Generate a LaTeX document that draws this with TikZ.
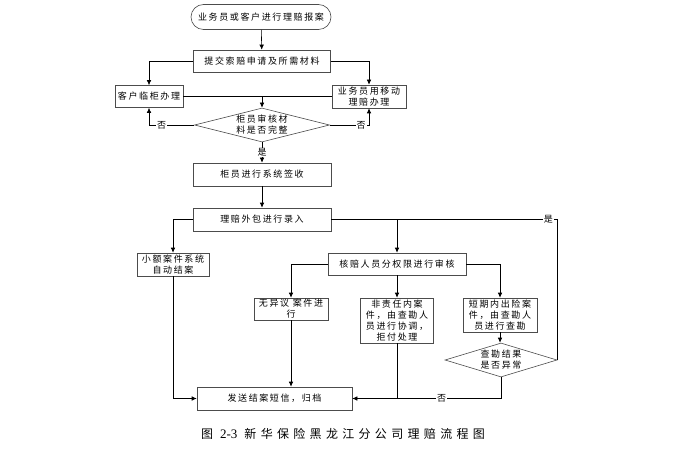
\documentclass[tikz,border=0pt]{standalone}
\usepackage{fontspec}
\usetikzlibrary{arrows.meta,shapes.geometric}
\newfontfamily\cjk[LetterSpace=18]{Noto Sans CJK SC}
\newfontfamily\capfont[LetterSpace=36]{Noto Sans CJK SC}
\newfontfamily\capnum{Liberation Serif}
\tikzset{every picture/.style={x=1pt,y=-1pt}}
\tikzset{box/.style={draw=black!70,line width=.6pt,inner sep=0pt,align=center,font=\cjk\fontsize{9}{11}\selectfont}}
\tikzset{dia/.style={box,diamond,aspect=3.6}}
\tikzset{edge/.style={line width=.6pt,-{Latex[length=5pt,width=4.5pt]}}}
\tikzset{line/.style={line width=.6pt}}
\tikzset{tag/.style={fill=white,inner sep=1pt,font=\cjk\fontsize{9}{11}\selectfont}}

\begin{document}
\begin{tikzpicture}
\useasboundingbox (0,0) rectangle (687,449);

\node [box,rounded corners=12.5pt,minimum width=140,minimum height=25] (start) at (261,17) {业务员或客户进行理赔报案};
\node [box,minimum width=137,minimum height=22] (ask) at (262,61) {提交索赔申请及所需材料};
\node [box,minimum width=68,minimum height=22] (kh) at (149,96.5) {客户临柜办理};
\node [box,minimum width=74,minimum height=23] (yw) at (369,96.5) {业务员用移动\\理赔办理};
\node [dia,minimum width=135,minimum height=34,label={[box,draw=none]center:柜员审核材\\料是否完整}] (chk) at (262,125) {};
\node [box,minimum width=138,minimum height=23] (sign) at (262,174.5) {柜员进行系统签收};
\node [box,minimum width=138,minimum height=23] (enter) at (262,219.5) {理赔外包进行录入};
\node [box,minimum width=72,minimum height=23] (small) at (173,264.5) {小额案件系统\\自动结案};
\node [box,minimum width=138,minimum height=22] (audit) at (397,264) {核赔人员分权限进行审核};
\node [box,minimum width=74,minimum height=22] (agree) at (291,309) {无异议 案件进\\行};
\node [box,minimum width=73,minimum height=45] (refuse) at (397,320.5) {非责任内案\\件，由查勘人\\员进行协调，\\拒付处理};
\node [box,minimum width=74,minimum height=34] (short) at (500,315) {短期内出险案\\件，由查勘人\\员进行查勘};
\node [dia,minimum width=112,minimum height=34,label={[box,draw=none]center:查勘结果\\是否异常}] (res) at (501,360) {};
\node [box,minimum width=155,minimum height=23] (send) at (274.5,398.5) {发送结案短信，归档};

\coordinate (j1) at (262,96.5);
\coordinate (j2) at (397,219.5);

\draw [edge] (start) -- (ask);
\draw [edge] (ask.west) -| (kh.north);
\draw [edge] (ask.east) -| (yw.north);
\draw [line] (kh.east) -- (yw.west);
\draw [edge] (j1) -- (chk.north);
\draw [edge] (chk.west) -| node [tag,pos=.36] {否} (kh.south);
\draw [edge] (chk.east) -| node [tag,pos=.4] {否} (yw.south);
\draw [edge] (chk.south) -- node [tag] {是} (sign.north);
\draw [edge] (sign) -- (enter);
\draw [edge] (enter.west) -| (small.north);
\draw [line] (res.east) |- node [tag,pos=.52] {是} (enter.east);
\draw [edge] (j2) -- (audit.north);
\draw [edge] (audit.west) -| (agree.north);
\draw [edge] (audit) -- (refuse);
\draw [edge] (audit.east) -| (short.north);
\draw [edge] (short.south) -- (short.south |- res.north);
\draw [edge] (res.south) |- node [tag,pos=.7] {否} (send.east);
\draw [line] (refuse.south) -- (refuse.south |- send.east);
\draw [edge] (agree.south) -- (agree.south |- send.north);
\draw [edge] (small.south) |- (send.west);

\node [font=\capfont\fontsize{12}{14}\selectfont] (cap) at (343,434) {图 {\capnum\fontsize{13}{14}\selectfont 2-3} 新华保险黑龙江分公司理赔流程图};
\end{tikzpicture}
\end{document}
